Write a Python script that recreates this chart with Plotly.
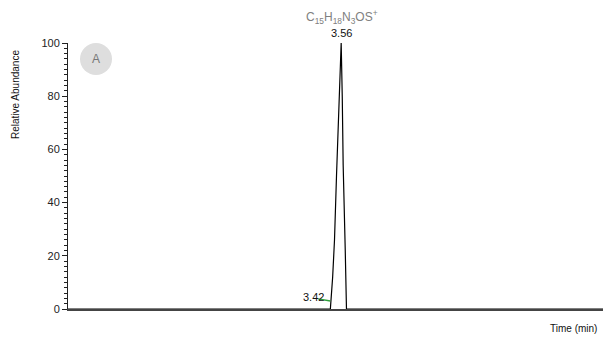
import plotly.graph_objects as go

# Chromatogram data (time in min, relative abundance %)
time_min = [0.0, 3.42, 3.45, 3.474, 3.50, 3.53, 3.561, 3.575, 3.587, 3.614, 3.63, 7.0]
abundance = [0.0, 0.0, 12.0, 26.0, 50.0, 76.0, 100.0, 80.0, 54.0, 22.0, 0.0, 0.0]

# Small integration marker near 3.42
marker_t = [3.26, 3.42]
marker_v = [3.8, 3.0]

peak_label = "3.56"
peak_time = 3.56
start_label = "3.42"
formula = "C<sub>15</sub>H<sub>18</sub>N<sub>3</sub>OS<sup>+</sup>"
y_ticks = [0, 20, 40, 60, 80, 100]

OFF = 8  # page body margin
W, H = 611 - OFF, 338 - OFF
L, R, T, B = 68 - OFF, 6, 43 - OFF, 29
pw, ph = W - L - R, H - T - B

fig = go.Figure()
fig.add_trace(go.Scatter(x=time_min, y=abundance, mode="lines",
                         line=dict(color="black", width=1.2), hoverinfo="skip"))
fig.add_trace(go.Scatter(x=marker_t, y=marker_v, mode="lines",
                         line=dict(color="#2e9e3a", width=1.4), hoverinfo="skip"))

font = "Arial, Liberation Sans, sans-serif"
fig.update_layout(
    width=W, height=H,
    margin=dict(l=L, r=R, t=T, b=B),
    paper_bgcolor="white", plot_bgcolor="white",
    showlegend=False,
    font=dict(family=font, size=11, color="#222"),
    xaxis=dict(range=[0, 7], showgrid=False, zeroline=False, showticklabels=False,
               ticks="", showline=True, linecolor="#444", linewidth=2),
    yaxis=dict(range=[0, 100], showgrid=False, zeroline=False, tickvals=y_ticks,
               ticks="outside", ticklen=5, tickcolor="#222", tickwidth=1,
               showline=True, linecolor="#222", linewidth=1,
               tickfont=dict(size=11, color="#222"),
               minor=dict(dtick=2, ticks="outside", ticklen=3, tickcolor="#222", tickwidth=1)),
)

# helpers converting window pixel positions to paper coords
px = lambda x: (x - OFF - L) / pw
py = lambda y: (H - B - (y - OFF)) / ph

ann = []
ann.append(dict(x=px(342), y=py(17), xref="paper", yref="paper", text=formula,
                showarrow=False, font=dict(size=12, color="#808080"), xanchor="center", yanchor="middle"))
ann.append(dict(x=peak_time, y=100, xref="x", yref="y", text=peak_label, showarrow=False,
                yshift=10, font=dict(size=11, color="#111"), xanchor="center", yanchor="middle"))
ann.append(dict(x=px(313), y=py(297), xref="paper", yref="paper", text=start_label, showarrow=False,
                font=dict(size=11, color="#111"), xanchor="center", yanchor="middle"))
ann.append(dict(x=px(15), y=py(94), xref="paper", yref="paper", text="Relative Abundance",
                textangle=-90, showarrow=False, font=dict(size=10, color="#111"),
                xanchor="center", yanchor="middle"))
ann.append(dict(x=px(573), y=py(328), xref="paper", yref="paper", text="Time (min)", showarrow=False,
                font=dict(size=10, color="#111"), xanchor="center", yanchor="middle"))
ann.append(dict(x=px(96), y=py(59), xref="paper", yref="paper", text="A", showarrow=False,
                font=dict(size=12, color="#777"), xanchor="center", yanchor="middle"))
fig.update_layout(annotations=ann)

cx, cy, r = 96, 59, 16
fig.add_shape(type="circle", xref="paper", yref="paper",
              x0=px(cx - r), x1=px(cx + r), y0=py(cy + r), y1=py(cy - r),
              fillcolor="#dedede", line=dict(width=0), layer="below")

fig.write_html("out.html")
